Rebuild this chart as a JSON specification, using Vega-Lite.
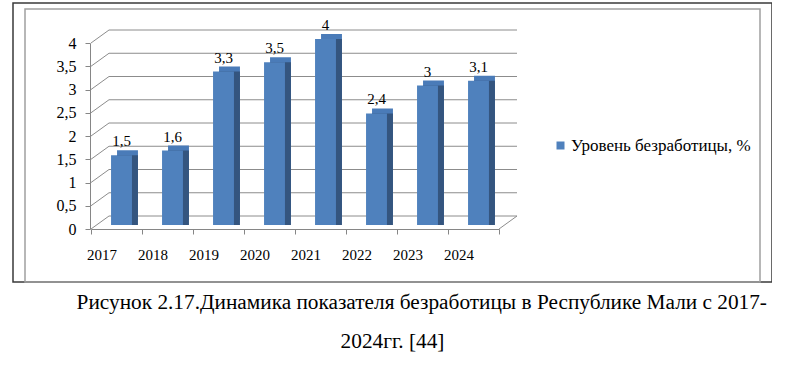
{
  "$schema": "https://vega.github.io/schema/vega-lite/v6.json",
  "width": 759,
  "height": 279,
  "padding": {"left": 13, "top": 3, "right": 0, "bottom": 0},
  "background": "white",
  "config": {
    "view": {"stroke": "#3a3a3a", "strokeWidth": 1.5},
    "axisY": {"labelOverlap": false}
  },
  "title": {
    "text": ["\u200b\u00a0\u00a0\u00a0\u00a0\u00a0\u00a0\u00a0\u00a0\u00a0\u00a0\u00a0Рисунок  2.17.Динамика показателя безработицы в Республике Мали с 2017-", "2024гг. [44]"],
    "orient": "bottom",
    "anchor": "middle",
    "font": "Liberation Serif",
    "fontSize": 21.3,
    "fontWeight": "normal",
    "color": "black",
    "lineHeight": 39,
    "offset": 9
  },
  "datasets": {
    "bars": [
      {"year": "2017", "value": 1.5, "label": "1,5", "series": "Уровень безработицы, %"},
      {"year": "2018", "value": 1.6, "label": "1,6", "series": "Уровень безработицы, %"},
      {"year": "2019", "value": 3.3, "label": "3,3", "series": "Уровень безработицы, %"},
      {"year": "2020", "value": 3.5, "label": "3,5", "series": "Уровень безработицы, %"},
      {"year": "2021", "value": 4, "label": "4", "series": "Уровень безработицы, %"},
      {"year": "2022", "value": 2.4, "label": "2,4", "series": "Уровень безработицы, %"},
      {"year": "2023", "value": 3, "label": "3", "series": "Уровень безработицы, %"},
      {"year": "2024", "value": 3.1, "label": "3,1", "series": "Уровень безработицы, %"}
    ],
    "grid": [
      {"v": 0}, {"v": 0.5}, {"v": 1}, {"v": 1.5}, {"v": 2}, {"v": 2.5}, {"v": 3}, {"v": 3.5}, {"v": 4}
    ]
  },
  "data": {"name": "bars"},
  "layer": [
    {
      "data": {"values": [{}]},
      "mark": {"type": "rect", "filled": false, "stroke": "#a0a0a0", "strokeWidth": 1.5, "xOffset": -66, "x2Offset": 261, "yOffset": -34, "y2Offset": 53},
      "encoding": {
        "x": {"datum": "2017", "type": "nominal", "bandPosition": 0},
        "x2": {"datum": "2024", "bandPosition": 1},
        "y": {"datum": 4, "type": "quantitative"},
        "y2": {"datum": 0}
      }
    },
    {
      "data": {"name": "grid"},
      "mark": {"type": "rule", "color": "#8c8c8c", "strokeWidth": 1, "xOffset": 18, "x2Offset": 18, "yOffset": -13},
      "encoding": {
        "y": {"field": "v", "type": "quantitative"},
        "x": {"datum": "2017", "type": "nominal", "bandPosition": 0},
        "x2": {"datum": "2024", "bandPosition": 1}
      }
    },
    {
      "data": {"name": "grid"},
      "mark": {"type": "rule", "color": "#8c8c8c", "strokeWidth": 1, "x2Offset": 18, "y2Offset": -13},
      "encoding": {
        "x": {"datum": "2017", "type": "nominal", "bandPosition": 0},
        "x2": {"datum": "2017", "bandPosition": 0},
        "y": {"field": "v", "type": "quantitative"},
        "y2": {"field": "v"}
      }
    },
    {
      "data": {"values": [{}]},
      "mark": {"type": "rule", "color": "#8c8c8c", "strokeWidth": 1, "x2Offset": 18, "y2Offset": -13},
      "encoding": {
        "x": {"datum": "2024", "type": "nominal", "bandPosition": 1},
        "x2": {"datum": "2024", "bandPosition": 1},
        "y": {"datum": 0, "type": "quantitative"},
        "y2": {"datum": 0}
      }
    },
    {
      "mark": {"type": "bar", "color": "#4a7bb8", "width": {"band": 0.41}, "xOffset": 11, "yOffset": -9, "y2Offset": -9},
      "encoding": {
        "x": {"field": "year", "type": "nominal", "scale": {"range": [78, 486], "paddingInner": 0, "paddingOuter": 0}, "axis": {
          "orient": "bottom", "offset": -53, "tickBand": "extent", "labelAngle": 0, "title": null,
          "domainColor": "#868686", "tickColor": "#868686", "tickSize": 5, "labelPadding": 20,
          "labelFontSize": 15, "labelFont": "Liberation Serif", "labelColor": "black", "grid": false
        }},
        "y": {"field": "value", "type": "quantitative", "scale": {"domain": [0, 4], "range": [226, 40], "nice": false}, "axis": {
          "orient": "left", "offset": -77, "values": [0, 0.5, 1, 1.5, 2, 2.5, 3, 3.5, 4], "tickCount": 9,
          "format": "~g", "labelExpr": "replace(datum.label, '.', ',')", "grid": false, "labelOverlap": false,
          "domainColor": "#868686", "tickColor": "#868686", "tickSize": 5, "labelFontSize": 16,
          "labelFont": "Liberation Serif", "labelColor": "black", "labelPadding": 9, "title": null
        }}
      }
    },
    {
      "mark": {"type": "bar", "color": "#34557f", "width": {"band": 0.41}, "xOffset": 11, "yOffset": -4, "y2Offset": -9},
      "encoding": {
        "x": {"field": "year", "type": "nominal"},
        "y": {"field": "value", "type": "quantitative"}
      }
    },
    {
      "mark": {"type": "bar", "width": {"band": 0.41}, "xOffset": 5, "yOffset": -4, "y2Offset": -4},
      "encoding": {
        "x": {"field": "year", "type": "nominal"},
        "y": {"field": "value", "type": "quantitative"},
        "color": {"field": "series", "type": "nominal", "scale": {"range": ["#4f81bd"]}, "legend": {
          "orient": "none", "legendX": 539, "legendY": 134, "title": null, "symbolType": "square",
          "symbolSize": 64, "symbolStrokeWidth": 0, "labelFontSize": 17, "labelLimit": 400,
          "labelFont": "Liberation Serif",
          "labelColor": "black", "labelOffset": 2, "padding": 0
        }}
      }
    },
    {
      "mark": {"type": "text", "fontSize": 15, "font": "Liberation Serif", "color": "black", "baseline": "alphabetic", "dx": 5, "dy": -13},
      "encoding": {
        "x": {"field": "year", "type": "nominal"},
        "y": {"field": "value", "type": "quantitative"},
        "text": {"field": "label", "type": "nominal"}
      }
    }
  ]
}
